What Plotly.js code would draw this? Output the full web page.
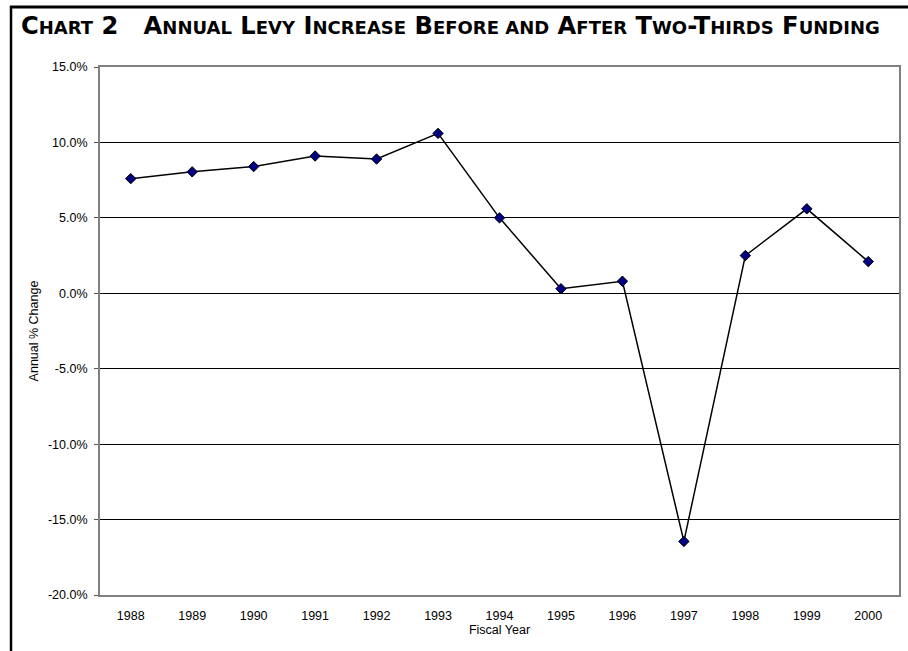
<!DOCTYPE html>
<html>
<head>
<meta charset="utf-8">
<script src="https://cdn.plot.ly/plotly-3.0.1.min.js"></script>
<style>
  html, body { margin: 0; padding: 0; background: #fff; }
  #chart { width: 908px; height: 651px; }
</style>
</head>
<body>
<div id="chart"></div>
<script>
const years = ['1988','1989','1990','1991','1992','1993','1994','1995','1996','1997','1998','1999','2000'];
const annualChange = [7.6, 8.05, 8.4, 9.1, 8.9, 10.6, 5.0, 0.3, 0.8, -16.45, 2.5, 5.6, 2.1];
const yTicks = [-20, -15, -10, -5, 0, 5, 10, 15];
const yTickLabels = ['-20.0%', '-15.0%', '-10.0%', '-5.0%', '0.0%', '5.0%', '10.0%', '15.0%'];
const sc = s => '<span style="font-size:18px">' + s + '</span>';
const titleText = 'C' + sc('HART') + ' 2&nbsp;&nbsp;&nbsp;A' + sc('NNUAL') + ' L' + sc('EVY') + ' I' + sc('NCREASE') +
  ' B' + sc('EFORE AND') + ' A' + sc('FTER') + ' T' + sc('WO') + '-T' + sc('HIRDS') + ' F' + sc('UNDING');

const W = 908, H = 651;
const L = 100, R = 9, T = 67, B = 56;
const pw = W - L - R, ph = H - T - B;
const px = x => (x - L) / pw;
const py = y => (H - B - y) / ph;

const trace = {
  x: years,
  y: annualChange,
  type: 'scatter',
  mode: 'lines+markers',
  line: { color: '#000000', width: 1.5 },
  marker: { symbol: 'diamond', size: 8, color: '#000080', line: { color: '#000000', width: 1 } },
  hoverinfo: 'x+y'
};

const layout = {
  width: W, height: H,
  margin: { l: L, r: R, t: T, b: B, pad: 0 },
  paper_bgcolor: '#ffffff',
  plot_bgcolor: '#ffffff',
  font: { family: 'Liberation Sans, Arial, sans-serif', color: '#000000', size: 12.5 },
  showlegend: false,
  title: {
    text: titleText,
    font: { family: 'DejaVu Sans, Liberation Sans, Arial, sans-serif', size: 24.2, color: '#000000', weight: 'bold' },
    xref: 'container', yref: 'container',
    x: 21 / W, xanchor: 'left',
    y: 1 - 26 / H, yanchor: 'middle'
  },
  xaxis: {
    type: 'category',
    range: [-0.5, 12.5],
    showgrid: false,
    zeroline: false,
    showline: true, mirror: true, linecolor: '#808080', linewidth: 2,
    ticks: '',
    ticklabelstandoff: 8,
    tickfont: { size: 12.5 },
    title: { text: 'Fiscal Year', font: { size: 12.5 }, standoff: 0 },
    fixedrange: true
  },
  yaxis: {
    range: [-20, 15],
    tickvals: yTicks,
    ticktext: yTickLabels,
    showgrid: true, gridcolor: '#000000', gridwidth: 1,
    zeroline: false,
    showline: true, mirror: true, linecolor: '#808080', linewidth: 2,
    ticks: 'outside', ticklen: 4, tickcolor: '#555555', tickwidth: 1,
    ticklabelstandoff: 4,
    tickfont: { size: 12.5 },
    title: { text: 'Annual % Change', font: { size: 12.5 }, standoff: 7 },
    fixedrange: true
  },
  shapes: [
    { type: 'line', xref: 'paper', yref: 'paper', x0: px(10), x1: px(W + 2), y0: py(7), y1: py(7), line: { color: '#000000', width: 3 } },
    { type: 'line', xref: 'paper', yref: 'paper', x0: px(11), x1: px(11), y0: py(6), y1: py(H + 2), line: { color: '#000000', width: 2.5 } }
  ]
};

Plotly.newPlot('chart', [trace], layout, { displayModeBar: false });
</script>
</body>
</html>
